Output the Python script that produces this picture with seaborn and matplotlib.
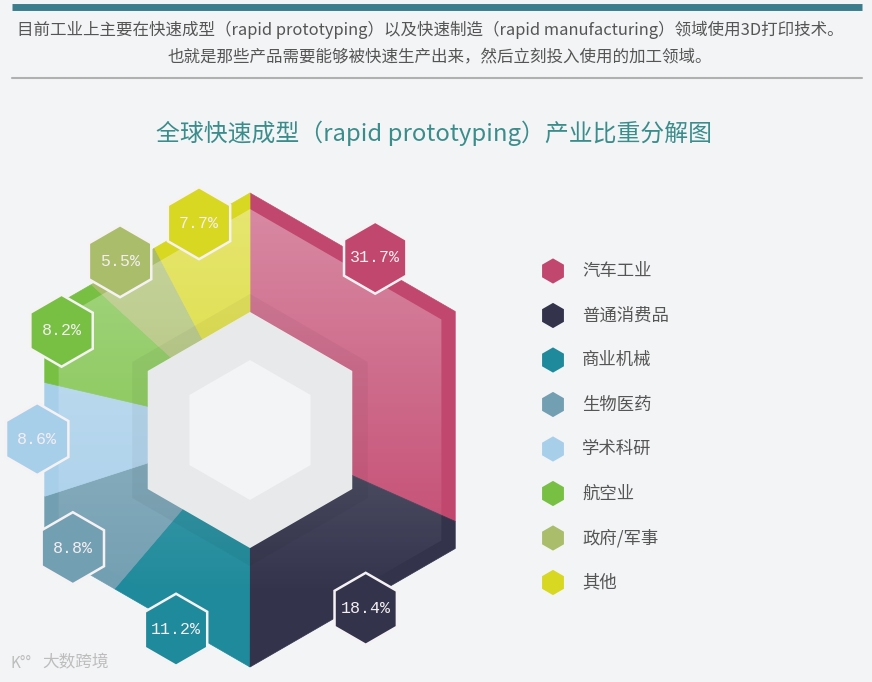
import numpy as np
import pandas as pd
import matplotlib
matplotlib.use("Agg")
import matplotlib.pyplot as plt
from matplotlib.patches import Polygon, RegularPolygon
from matplotlib.colors import to_rgb
import seaborn as sns

# ---------------- data ----------------
categories = ['汽车工业', '普通消费品', '商业机械', '生物医药', '学术科研', '航空业', '政府/军事', '其他']
shares = [31.7, 18.4, 11.2, 8.8, 8.6, 8.2, 5.5, 7.7]
share_labels = ['31.7%', '18.4%', '11.2%', '8.8%', '8.6%', '8.2%', '5.5%', '7.7%']
colors = ['#c2476f', '#33344c', '#1f8a9b', '#739fb2', '#a8cfea', '#78c043', '#a9bd6b', '#d8d721']
header_lines = ['目前工业上主要在快速成型（rapid prototyping）以及快速制造（rapid manufacturing）领域使用3D打印技术。',
                '也就是那些产品需要能够被快速生产出来，然后立刻投入使用的加工领域。']
title = '全球快速成型（rapid prototyping）产业比重分解图'
watermark = '大数跨境'

sns.set_theme(style='white')
plt.rcParams['font.family'] = ['Noto Sans CJK SC', 'DejaVu Sans']

W, H = 872, 682
fig = plt.figure(figsize=(W / 100, H / 100), dpi=100)
bg = '#f3f4f6'
fig.patch.set_facecolor(bg)
ax = fig.add_axes([0, 0, 1, 1])
ax.set_facecolor(bg)
ax.set_xlim(0, W)
ax.set_ylim(H, 0)
ax.set_aspect('equal')
ax.axis('off')

cx, cy = 250, 430
R_OUT, R_BAND, R_INNERBAND, R_HOLE, R_CORE = 237, 221, 136, 118, 70


def hex_r(theta_deg, R):
    a = R * np.cos(np.radians(30))
    phi = (theta_deg % 60) - 30
    return a / np.cos(np.radians(phi))


def ring_poly(t1, t2, r_in, r_out):
    ts = [t1] + [k * 60 for k in range(0, 7) if t1 < k * 60 < t2] + [t2]
    ts = np.array(ts, dtype=float)
    outer = [(cx + hex_r(t, r_out) * np.sin(np.radians(t)),
              cy - hex_r(t, r_out) * np.cos(np.radians(t))) for t in ts]
    inner = [(cx + hex_r(t, r_in) * np.sin(np.radians(t)),
              cy - hex_r(t, r_in) * np.cos(np.radians(t))) for t in ts[::-1]]
    return outer + inner


total = sum(shares)
angles = np.cumsum([0] + [s / total * 360 for s in shares])

for i, col in enumerate(colors):
    t1, t2 = angles[i], angles[i + 1]
    ax.add_patch(Polygon(ring_poly(t1, t2, R_HOLE, R_OUT), closed=True, fc=col, ec=col, lw=0.5, zorder=1))

# white vertical gradient overlay on the inner (lighter) part of the ring
clip = RegularPolygon((cx, cy), 6, radius=R_BAND, orientation=0, transform=ax.transData)
ny = 200
alpha = np.clip(np.linspace(0.36, -0.05, ny), 0, None)[:, None]
grad = np.ones((ny, 2, 4))
grad[..., 3] = alpha
im = ax.imshow(grad, extent=(cx - R_BAND, cx + R_BAND, cy + R_BAND, cy - R_BAND),
               origin='upper', aspect='auto', zorder=2, interpolation='bilinear')
im.set_clip_path(clip)
# subtle shadow band next to the hole
for i, col in enumerate(colors):
    ax.add_patch(Polygon(ring_poly(angles[i], angles[i + 1], R_HOLE, R_INNERBAND), closed=True,
                         fc=(0, 0, 0, 0.04), ec='none', zorder=3))
ax.set_xlim(0, W)
ax.set_ylim(H, 0)

# center hexagons
ax.add_patch(RegularPolygon((cx, cy), 6, radius=R_HOLE, orientation=0, fc='#e8e9ea', ec='none', zorder=4))
ax.add_patch(RegularPolygon((cx, cy), 6, radius=R_CORE, orientation=0, fc='#f3f4f5', ec='none', zorder=4))

# label hexagons
label_shift = {0: -21}
for i, col in enumerate(colors):
    mid = (angles[i] + angles[i + 1]) / 2 + label_shift.get(i, 0)
    r = 213
    lx = cx + r * np.sin(np.radians(mid))
    ly = cy - r * np.cos(np.radians(mid))
    ax.add_patch(RegularPolygon((lx, ly), 6, radius=36, orientation=0, fc=col,
                                ec='#f6f2f4', lw=1.8, zorder=5))
    ax.text(lx, ly, share_labels[i], ha='center', va='center', color='#f4eef0',
            fontsize=12, family=['Liberation Mono', 'DejaVu Sans Mono'], zorder=6)

# legend with seaborn hexagon markers
leg = pd.DataFrame({'cat': categories, 'x': [553] * len(categories),
                    'y': [271 + 44.5 * i for i in range(len(categories))]})
sns.scatterplot(data=leg, x='x', y='y', hue='cat', palette=colors, marker='h',
                s=330, edgecolor='none', legend=False, ax=ax)
for _, row in leg.iterrows():
    ax.text(row['x'] + 29, row['y'], row['cat'], ha='left', va='center',
            fontsize=12.5, color='#555555')

ax.set_xlim(0, W)
ax.set_ylim(H, 0)
ax.set_xlabel('')
ax.set_ylabel('')
ax.axis('off')

# header
ax.plot([12, 862], [7, 7], color='#3b7d8d', lw=5, solid_capstyle='butt')
ax.text(430, 30, header_lines[0], ha='center', va='center', fontsize=11.9, color='#555555')
ax.text(440, 57, header_lines[1], ha='center', va='center', fontsize=11.9, color='#555555')
ax.plot([12, 862], [78, 78], color='#b0b0b0', lw=1.5)

# title
ax.text(434, 133, title, ha='center', va='center', fontsize=17.2, color='#3b8d8c')

# watermark
ax.text(10, 663, 'K°°', ha='left', va='center', fontsize=11, color='#bdbdbd')
ax.text(42, 663, watermark, ha='left', va='center', fontsize=12, color='#bdbdbd')

fig.savefig('out.png', dpi=100, facecolor=bg)
